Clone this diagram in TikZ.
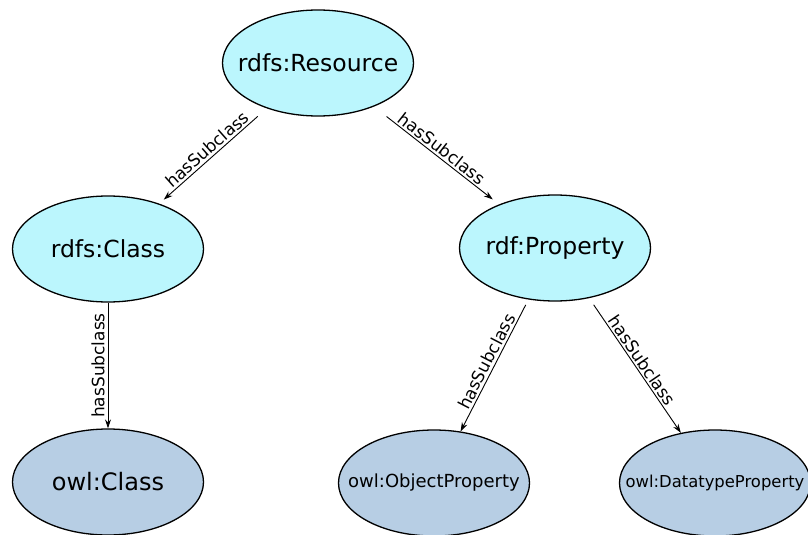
\documentclass[tikz,border=0pt]{standalone}
\usepackage{fontspec}
\setmainfont{DejaVu Sans}
\usetikzlibrary{shapes.geometric,arrows.meta}
\definecolor{topfill}{RGB}{187,246,253}
\definecolor{botfill}{RGB}{183,206,228}
\tikzset{
  ell/.style={ellipse, draw=black, line width=1.3pt, minimum width=191pt, minimum height=106pt, inner sep=0pt},
  upper/.style={ell, fill=topfill, font=\fontsize{23.5}{28}\selectfont},
  lower/.style={ell, fill=botfill},
  sub/.style={draw=black, line width=0.9pt, -{Stealth[length=9pt,width=6pt]}},
  lbl/.style={font=\fontsize{17}{20}\selectfont, sloped, above, inner sep=2pt}
}
\begin{document}
\begin{tikzpicture}[x=1pt,y=-1pt]
\useasboundingbox (0,0) rectangle (808,535);
\node[upper] (res) at (318,63) {\makebox[0pt]{rdfs:Resource}};
\node[upper] (cls) at (108,249) {\makebox[0pt]{rdfs:Class}};
\node[upper] (prop) at (555,248) {\makebox[0pt]{rdf:Property}};
\node[lower, font=\fontsize{24}{28}\selectfont] (owlc) at (108,482) {\makebox[0pt]{owl:Class}};
\node[lower, font=\fontsize{18}{22}\selectfont] (objp) at (434,483) {\makebox[0pt]{owl:ObjectProperty}};
\node[lower, font=\fontsize{16.4}{20}\selectfont] (datp) at (715,483) {\makebox[0pt]{owl:DatatypeProperty}};

\draw[sub, shorten <=12pt, shorten >=6pt] (res) -- node[lbl] {hasSubclass} (cls);
\draw[sub, shorten <=16pt, shorten >=8pt] (res) -- node[lbl] {hasSubclass} (prop);
\draw[sub] (cls) -- node[rotate=90, anchor=south, inner sep=3pt, font=\fontsize{17}{20}\selectfont] {hasSubclass} (owlc);
\draw[sub, shorten <=6pt] (prop) -- node[lbl] {hasSubclass} (objp);
\draw[sub, shorten <=8pt] (prop) -- node[lbl] {hasSubclass} (datp);
\end{tikzpicture}
\end{document}
